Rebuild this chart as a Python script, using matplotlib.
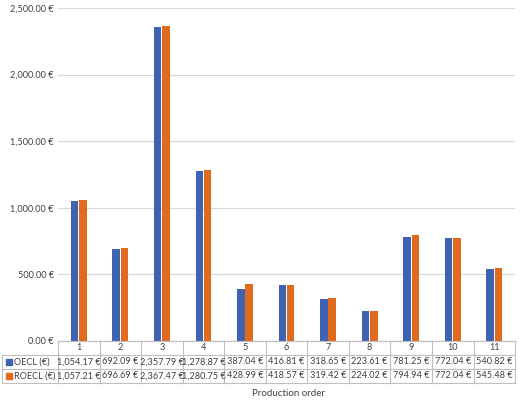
import matplotlib
matplotlib.use("Agg")
import matplotlib.pyplot as plt
from matplotlib.patches import Rectangle
import numpy as np

categories = ["1","2","3","4","5","6","7","8","9","10","11"]
oecl = [1054.17, 692.09, 2357.79, 1278.87, 387.04, 416.81, 318.65, 223.61, 781.25, 772.04, 540.82]
roecl = [1057.21, 696.69, 2367.47, 1280.75, 428.99, 418.57, 319.42, 224.02, 794.94, 772.04, 545.48]
series_names = ["OECL (€)", "ROECL (€)"]
colors = ["#3F63B0", "#E06A1E"]

plt.rcParams['font.family'] = ['Lato', 'DejaVu Sans']
fs = 6.6
fig = plt.figure(figsize=(5.2, 4.04), dpi=100)
ax = fig.add_axes([0.1115, 0.156, 0.879, 0.824])
x = np.arange(len(categories))
w = 0.18
ax.bar(x - 0.1, oecl, w, color=colors[0], zorder=3)
ax.bar(x + 0.1, roecl, w, color=colors[1], zorder=3)
ax.set_xlim(-0.5, len(categories) - 0.5)
ax.set_ylim(0, 2500)
ax.set_yticks(np.arange(0, 2501, 500))
ax.set_yticklabels([f"{v:,.2f} €" for v in np.arange(0, 2501, 500)], fontsize=fs, color="#404040")
ax.yaxis.grid(True, color="#D9D9D9", lw=0.8, zorder=0)
ax.set_xticks([])
for s in ["top", "right", "left"]:
    ax.spines[s].set_visible(False)
ax.spines["bottom"].set_color("#BFBFBF")
ax.tick_params(axis="y", length=0, pad=3)

tab = fig.add_axes([0.1115, 0.052, 0.879, 0.104])
tab.set_xlim(-0.5, len(categories) - 0.5)
tab.set_ylim(0, 3)
tab.axis("off")
lc = "#BFBFBF"
left_ext = -0.5 - 56 / (457 / 11)
for yv in [0, 1, 2]:
    tab.plot([left_ext, len(categories) - 0.5], [yv, yv], color=lc, lw=0.8, clip_on=False)
tab.plot([-0.5, len(categories) - 0.5], [3, 3], color=lc, lw=0.8, clip_on=False)
for xv in np.arange(-0.5, len(categories)):
    tab.plot([xv, xv], [0, 3], color=lc, lw=0.8, clip_on=False)
tab.plot([left_ext, left_ext], [0, 2], color=lc, lw=0.8, clip_on=False)
for i, c in enumerate(categories):
    tab.text(i, 2.5, c, ha="center", va="center", fontsize=fs, color="#404040")
    tab.text(i, 1.5, f"{oecl[i]:,.2f} €", ha="center", va="center", fontsize=fs, color="#404040")
    tab.text(i, 0.5, f"{roecl[i]:,.2f} €", ha="center", va="center", fontsize=fs, color="#404040")
for j, (name, col) in enumerate(zip(series_names, colors)):
    yc = 1.5 - j
    tab.add_patch(Rectangle((left_ext + 0.1, yc - 0.2), 0.13, 0.4, color=col, clip_on=False))
    tab.text(left_ext + 0.3, yc, name, ha="left", va="center", fontsize=fs, color="#404040", clip_on=False)
fig.text(0.555, 0.027, "Production order", ha="center", va="center", fontsize=7, color="#404040")
fig.savefig("out.png", dpi=100)
